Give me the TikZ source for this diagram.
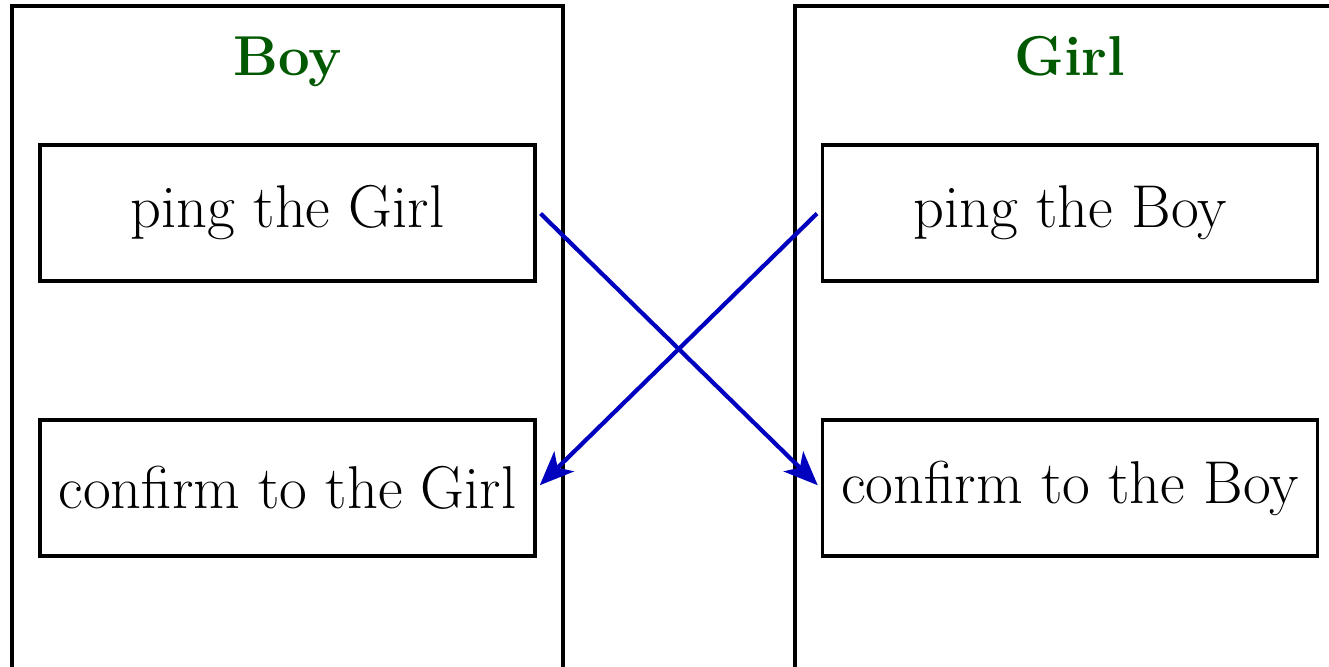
\documentclass[tikz,border=0pt]{standalone}
\usepackage{amsmath, amssymb}
\usetikzlibrary{arrows.meta}

\begin{document}
\begin{tikzpicture}
\tikzset{
  lane/.style = {line width = 1.1pt},
  task/.style = {draw, line width = 1.1pt, minimum width = 4.95cm, minimum height = 1.36cm, font = \fontsize{17.2}{20}\selectfont},
  who/.style = {font = \fontsize{16}{19}\selectfont\bfseries, text = green!35!black, anchor = base},
  msg/.style = {line width = 1.2pt, blue!75!black, -{Stealth[length=3.4mm, width=2.8mm, inset=0.9mm]}, shorten <= 0.05cm, shorten >= 0.04cm}
}
\useasboundingbox (0,0) rectangle (13.29,-6.66);

% the two lanes
\draw[lane] (0.12,-7) -- (0.12,-0.06) -- (5.63,-0.06) -- (5.63,-7);
\draw[lane] (7.95,-7) -- (7.95,-0.06) -- (13.5,-0.06);

\node[who] (boy) at (2.875,-0.75) {Boy};
\node[who] (girl) at (10.70,-0.75) {Girl};

\node[task] (pingG) at (2.875,-2.13) {ping the Girl};
\node[task] (confG) at (2.875,-4.88) {confirm to the Girl};
\node[task] (pingB) at (10.70,-2.13) {ping the Boy};
\node[task] (confB) at (10.70,-4.88) {confirm to the Boy};

\draw[msg] ([yshift=0.03cm]pingG.east) -- (confB.west);
\draw[msg] ([yshift=0.03cm]pingB.west) -- (confG.east);
\end{tikzpicture}
\end{document}
